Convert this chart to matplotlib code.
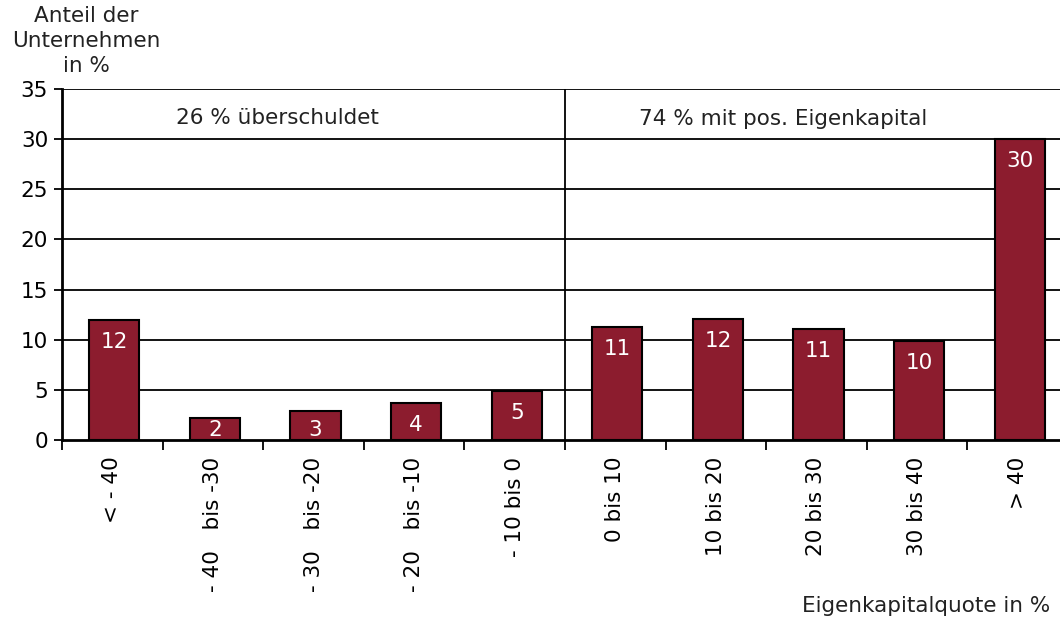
import matplotlib
matplotlib.use('Agg')
import matplotlib.pyplot as plt
import numpy as np

kategorien = ["< - 40", "- 40   bis -30", "- 30   bis -20", "- 20   bis -10", "- 10 bis 0",
              "0 bis 10", "10 bis 20", "20 bis 30", "30 bis 40", "> 40"]
anteile = [12.0, 2.2, 2.9, 3.7, 4.9, 11.3, 12.1, 11.1, 9.9, 30.0]
beschriftung = ["12", "2", "3", "4", "5", "11", "12", "11", "10", "30"]
y_ticks = [0, 5, 10, 15, 20, 25, 30, 35]

bar_color = '#8C1C2E'
fs = 15.5

fig = plt.figure(figsize=(10.6, 6.19), dpi=100)
ax = fig.add_axes([62 / 1060, 1 - 440 / 619, 1006 / 1060, 351 / 619])

x = np.arange(len(kategorien))
ax.bar(x + 0.02, anteile, width=0.5, color=bar_color, edgecolor='black', linewidth=1.5, zorder=3)

for xi, v, t in zip(x, anteile, beschriftung):
    ax.text(xi + 0.02, max(v - 2.2, 1.0), t, color='white', fontsize=fs, ha='center', va='center', zorder=4)

ax.set_xlim(-0.5, len(kategorien) - 0.5)
ax.set_ylim(0, 35)
ax.set_yticks(y_ticks)
ax.tick_params(axis='y', labelsize=fs, length=6, width=1.3, direction='out', pad=4)
for yv in y_ticks[1:]:
    ax.axhline(yv, color='black', linewidth=1.3, zorder=1)

ax.set_xticks(x)
ax.set_xticklabels(kategorien, rotation=90, fontsize=fs, va='top', ha='center')
ax.tick_params(axis='x', which='major', length=0, pad=12)
ax.set_xticks(np.arange(len(kategorien) + 1) - 0.5, minor=True)
ax.tick_params(axis='x', which='minor', length=7, width=1.3, direction='out')

ax.axvline(4.5, color='black', linewidth=1.3, zorder=2)

for s in ['top', 'right']:
    ax.spines[s].set_visible(False)
ax.spines['left'].set_linewidth(2)
ax.spines['bottom'].set_linewidth(2)

ax.text(1.64, 32.1, "26 % überschuldet", fontsize=fs, ha='center', va='center', color='#222222')
ax.text(6.67, 32.0, "74 % mit pos. Eigenkapital", fontsize=fs, ha='center', va='center', color='#222222')

fig.text(86 / 1060, 1 - 6 / 619, "Anteil der\nUnternehmen\nin %", fontsize=fs, ha='center', va='top',
         color='#222222', linespacing=1.3)
fig.text(1050 / 1060, 1 - 606 / 619, "Eigenkapitalquote in %", fontsize=fs, ha='right', va='center',
         color='#222222')

fig.savefig('out.png', dpi=100)
